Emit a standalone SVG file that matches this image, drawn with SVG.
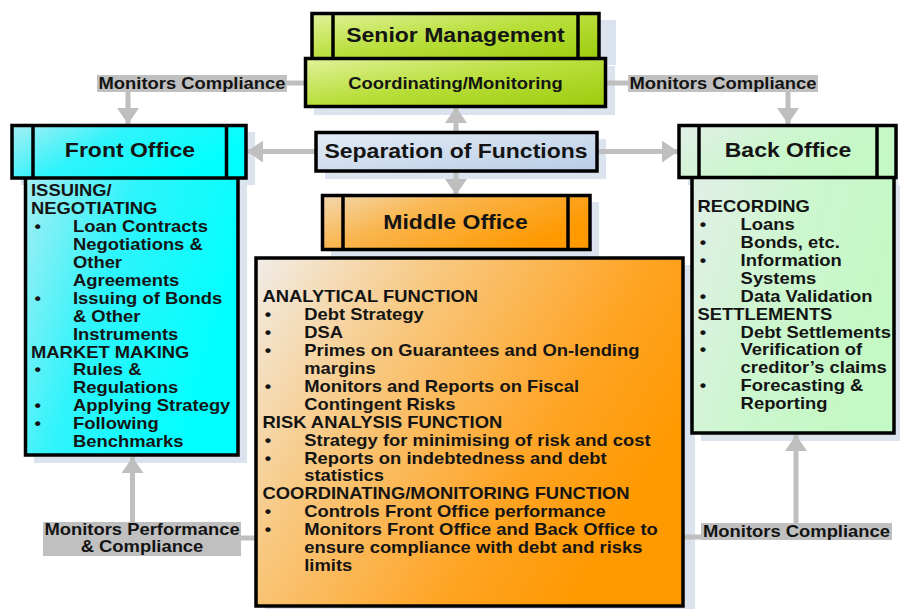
<svg xmlns="http://www.w3.org/2000/svg" width="900" height="609" viewBox="0 0 900 609">
<defs>
<linearGradient id="gGreen" x1="0" y1="0" x2="1" y2="1"><stop offset="0" stop-color="#e2f29a"/><stop offset="0.5" stop-color="#b8de3a"/><stop offset="1" stop-color="#9ccc0c"/></linearGradient>
<linearGradient id="gCyan" x1="0" y1="0" x2="1" y2="0.4"><stop offset="0" stop-color="#a6eef3"/><stop offset="0.45" stop-color="#2ff4fb"/><stop offset="1" stop-color="#00ffff"/></linearGradient>
<linearGradient id="gMint" x1="0" y1="0" x2="1" y2="0.4"><stop offset="0" stop-color="#e2efe8"/><stop offset="0.5" stop-color="#cdf6cf"/><stop offset="1" stop-color="#c4f8c4"/></linearGradient>
<linearGradient id="gOrange" x1="0" y1="0" x2="1" y2="0.5"><stop offset="0" stop-color="#f1ede8"/><stop offset="0.35" stop-color="#f8c880"/><stop offset="0.75" stop-color="#ffa322"/><stop offset="1" stop-color="#ff9900"/></linearGradient>
<linearGradient id="gOrangeH" x1="0" y1="0" x2="1" y2="0.5"><stop offset="0" stop-color="#f3d8b0"/><stop offset="0.4" stop-color="#f9b650"/><stop offset="1" stop-color="#ff9900"/></linearGradient>
<linearGradient id="gBlue" x1="0" y1="0" x2="1" y2="1"><stop offset="0" stop-color="#e4ecf6"/><stop offset="1" stop-color="#b9cde6"/></linearGradient>
<marker id="ah" markerUnits="userSpaceOnUse" markerWidth="20" markerHeight="22" refX="16" refY="11" orient="auto"><path d="M0,0 L16,11 L0,22 z" fill="#bfbfbf"/></marker>
</defs>
<style>
.box{stroke:#000;stroke-width:3.5}
.bar{stroke:#000;stroke-width:3.5}
.sh{fill:#dbe3ef}
.t{font-family:"Liberation Sans",Arial,sans-serif;font-weight:bold;fill:#141414;font-size:16px}
.h{font-size:20px;text-anchor:middle}
.c{text-anchor:middle}
.ln{stroke:#bfbfbf;stroke-width:5;fill:none}
.lab{fill:#c0c0c0}
</style>

<!-- shadows -->
<g id="shadows">
<rect class="sh" x="320" y="20" width="296" height="45"/>
<rect class="sh" x="314" y="66" width="301" height="49"/>
<rect class="sh" x="21" y="132" width="234" height="53"/>
<rect class="sh" x="34" y="185" width="213" height="278"/>
<rect class="sh" x="688" y="132" width="210" height="53"/>
<rect class="sh" x="701" y="185" width="199" height="256"/>
<rect class="sh" x="325" y="139" width="281" height="40"/>
<rect class="sh" x="331" y="202" width="268" height="55"/>
<rect class="sh" x="265" y="265" width="430" height="344"/>
</g>

<!-- connectors -->
<g id="connectors">
<line class="ln" x1="287" y1="83" x2="305" y2="83"/>
<line class="ln" x1="605" y1="83" x2="628" y2="83"/>
<line class="ln" x1="128" y1="92" x2="128" y2="124" marker-end="url(#ah)"/>
<line class="ln" x1="788" y1="92" x2="788" y2="124" marker-end="url(#ah)"/>
<line class="ln" x1="456" y1="132" x2="456" y2="107" marker-end="url(#ah)"/>
<line class="ln" x1="456" y1="171" x2="456" y2="195" marker-end="url(#ah)"/>
<line class="ln" x1="316" y1="151.5" x2="247" y2="151.5" marker-end="url(#ah)"/>
<line class="ln" x1="597" y1="151.5" x2="678" y2="151.5" marker-end="url(#ah)"/>
<line class="ln" x1="132.5" y1="522" x2="132.5" y2="457" marker-end="url(#ah)"/>
<line class="ln" x1="796" y1="523" x2="796" y2="435" marker-end="url(#ah)"/>
<line class="ln" x1="241" y1="538" x2="256" y2="538"/>
<line class="ln" x1="683" y1="537" x2="701" y2="537"/>
<rect class="lab" x="97" y="75" width="190" height="17"/>
<text class="t c" transform="translate(192 88.5) scale(1.15 1)">Monitors Compliance</text>
<rect class="lab" x="628" y="75" width="190" height="17"/>
<text class="t c" transform="translate(723 88.5) scale(1.15 1)">Monitors Compliance</text>
<rect class="lab" x="43" y="522" width="198" height="34"/>
<text class="t c" transform="translate(142 535) scale(1.15 1)">Monitors Performance</text>
<text class="t c" transform="translate(142 552) scale(1.15 1)">&amp; Compliance</text>
<rect class="lab" x="701" y="523" width="191" height="17"/>
<text class="t c" transform="translate(796.5 536.5) scale(1.15 1)">Monitors Compliance</text>
</g>

<!-- Senior Management -->
<g id="senior-management">
<rect class="box" x="312" y="13.5" width="287" height="46" fill="url(#gGreen)"/>
<line class="bar" x1="333" y1="13.5" x2="333" y2="59"/>
<line class="bar" x1="578" y1="13.5" x2="578" y2="59"/>
<text class="t h" transform="translate(455.5 41.5) scale(1.15 1)">Senior Management</text>
</g>
<g id="coordinating-monitoring">
<rect class="box" x="305.5" y="58.5" width="300" height="48" fill="url(#gGreen)"/>
<text class="t c" transform="translate(455.5 88.5) scale(1.15 1)">Coordinating/Monitoring</text>
</g>

<!-- Separation -->
<g id="separation-of-functions">
<rect class="box" x="316" y="132.5" width="281" height="38.5" fill="url(#gBlue)"/>
<text class="t h" transform="translate(456 158) scale(1.15 1)">Separation of Functions</text>
</g>

<!-- Front Office -->
<g id="front-office">
<rect class="box" x="25.5" y="177" width="212.5" height="278" fill="url(#gCyan)"/>
<rect class="box" x="12" y="125.5" width="234" height="52.5" fill="url(#gCyan)"/>
<line class="bar" x1="33" y1="125.5" x2="33" y2="178"/>
<line class="bar" x1="226.5" y1="125.5" x2="226.5" y2="178"/>
<text class="t h" transform="translate(130 157) scale(1.15 1)">Front Office</text>
<g class="t" transform="translate(31 0) scale(1.15 1)">
<text x="0" y="196.5">ISSUING/</text>
<text x="0" y="214.4">NEGOTIATING</text>
<text x="3" y="232.3">•</text><text x="36.5" y="232.3">Loan Contracts</text>
<text x="36.5" y="250.2">Negotiations &amp;</text>
<text x="36.5" y="268.1">Other</text>
<text x="36.5" y="286">Agreements</text>
<text x="3" y="303.9">•</text><text x="36.5" y="303.9">Issuing of Bonds</text>
<text x="36.5" y="321.8">&amp; Other</text>
<text x="36.5" y="339.7">Instruments</text>
<text x="0" y="357.6">MARKET MAKING</text>
<text x="3" y="375.5">•</text><text x="36.5" y="375.5">Rules &amp;</text>
<text x="36.5" y="393.4">Regulations</text>
<text x="3" y="411.3">•</text><text x="36.5" y="411.3">Applying Strategy</text>
<text x="3" y="429.2">•</text><text x="36.5" y="429.2">Following</text>
<text x="36.5" y="447.1">Benchmarks</text>
</g>
</g>

<!-- Back Office -->
<g id="back-office">
<rect class="box" x="692" y="177" width="202" height="256" fill="url(#gMint)"/>
<rect class="box" x="679" y="125.5" width="217" height="52" fill="url(#gMint)"/>
<line class="bar" x1="699" y1="125.5" x2="699" y2="177.5"/>
<line class="bar" x1="877" y1="125.5" x2="877" y2="177.5"/>
<text class="t h" transform="translate(788 157) scale(1.15 1)">Back Office</text>
<g class="t" transform="translate(697.5 0) scale(1.15 1)">
<text x="0" y="212.3">RECORDING</text>
<text x="2" y="230.2">•</text><text x="37.5" y="230.2">Loans</text>
<text x="2" y="248.1">•</text><text x="37.5" y="248.1">Bonds, etc.</text>
<text x="2" y="266">•</text><text x="37.5" y="266">Information</text>
<text x="37.5" y="283.9">Systems</text>
<text x="2" y="301.8">•</text><text x="37.5" y="301.8">Data Validation</text>
<text x="0" y="319.7">SETTLEMENTS</text>
<text x="2" y="337.6">•</text><text x="37.5" y="337.6">Debt Settlements</text>
<text x="2" y="355.5">•</text><text x="37.5" y="355.5">Verification of</text>
<text x="37.5" y="373.4">creditor’s claims</text>
<text x="2" y="391.3">•</text><text x="37.5" y="391.3">Forecasting &amp;</text>
<text x="37.5" y="409.2">Reporting</text>
</g>
</g>

<!-- Middle Office -->
<g id="middle-office">
<rect class="box" x="322.5" y="195.5" width="267.5" height="54" fill="url(#gOrangeH)"/>
<line class="bar" x1="343" y1="195.5" x2="343" y2="249.5"/>
<line class="bar" x1="568" y1="195.5" x2="568" y2="249.5"/>
<text class="t h" transform="translate(455.5 229) scale(1.15 1)">Middle Office</text>
</g>
<g id="middle-office-functions">
<rect class="box" x="256" y="258" width="427" height="348" fill="url(#gOrange)"/>
<g class="t" transform="translate(262.5 0) scale(1.15 1)">
<text x="0" y="302.5">ANALYTICAL FUNCTION</text>
<text x="2" y="320.4">•</text><text x="36.3" y="320.4">Debt Strategy</text>
<text x="2" y="338.3">•</text><text x="36.3" y="338.3">DSA</text>
<text x="2" y="356.2">•</text><text x="36.3" y="356.2">Primes on Guarantees and On-lending</text>
<text x="36.3" y="374.1">margins</text>
<text x="2" y="392">•</text><text x="36.3" y="392">Monitors and Reports on Fiscal</text>
<text x="36.3" y="409.9">Contingent Risks</text>
<text x="0" y="427.8">RISK ANALYSIS FUNCTION</text>
<text x="2" y="445.7">•</text><text x="36.3" y="445.7">Strategy for minimising of risk and cost</text>
<text x="2" y="463.6">•</text><text x="36.3" y="463.6">Reports on indebtedness and debt</text>
<text x="36.3" y="481.5">statistics</text>
<text x="0" y="499.4">COORDINATING/MONITORING FUNCTION</text>
<text x="2" y="517.3">•</text><text x="36.3" y="517.3">Controls Front Office performance</text>
<text x="2" y="535.2">•</text><text x="36.3" y="535.2">Monitors Front Office and Back Office to</text>
<text x="36.3" y="553.1">ensure compliance with debt and risks</text>
<text x="36.3" y="571">limits</text>
</g>
</g>
</svg>
